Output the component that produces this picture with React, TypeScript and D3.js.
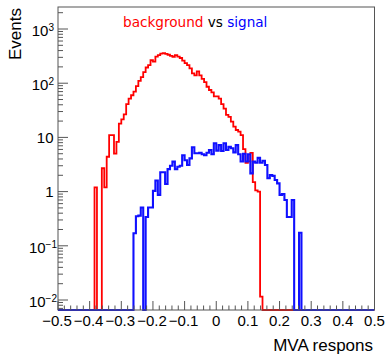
import React from "react";
import * as d3 from "d3";

// Histogram binning (axis range and number of bins)
const xMin = -0.5;
const xMax = 0.5;
const nBins = 130;

// Background (red) bin contents, starting at bin index bkgFirstBin
const bkgFirstBin = 15;
const bkgValues = [
  1.2, 0, 0, 2.7, 1.2, 4.4, 11, 11, 5.0, 8.3,
  18, 21.6, 26.7, 41, 52, 60, 70, 88, 110, 130,
  160, 195, 215, 265, 250, 310, 330, 350, 358, 348,
  335, 320, 308, 330, 310, 292, 262, 235, 215, 188,
  152, 140, 165, 140, 120, 105, 86, 75, 68, 57,
  57, 52, 41, 34, 26, 24, 19.5, 15.8, 13.7, 12.8,
  11, 6.1, 3.4, 3.6, 5.2, 1.5, 1.05, 1.0, 0.0115,
];

// Signal (blue) bin contents, starting at bin index sigFirstBin
const sigFirstBin = 31;
const sigValues = [
  0.17, 0.35, 0.36, 0.51, 0, 0.34, 0.51, 0.51, 1.03, 1.6,
  0.87, 2.27, 2.27, 1.38, 2.6, 3.0, 3.57, 2.58, 2.88, 3.0,
  4.7, 3.8, 3.1, 4.1, 6.6, 5.1, 5.1, 5.2, 4.9, 4.7,
  5.2, 5.85, 4.9, 7.8, 5.7, 7.2, 5.6, 7.8, 5.85, 6.7,
  6.3, 5.3, 7.2, 4.9, 3.6, 5.0, 3.6, 4.9, 2.17, 3.57,
  3.4, 4.2, 3.4, 3.7, 3.1, 1.76, 2.03, 1.95, 1.64, 1.42,
  0.87, 0.9, 0.7, 0.34, 0.34, 0.7, 0, 0, 0.174,
];

// Axis ticks and labels
const xMajorTicks = [-0.5, -0.4, -0.3, -0.2, -0.1, 0, 0.1, 0.2, 0.3, 0.4, 0.5];
const xTickLabels = ["\u22120.5", "\u22120.4", "\u22120.3", "\u22120.2", "\u22120.1", "0", "0.1", "0.2", "0.3", "0.4", "0.5"];
const yDecades = [-2, -1, 0, 1, 2, 3];
const yMin = 0.00654;
const yMax = 2547;

const titleParts = [
  { text: "background", color: "#ff0000" },
  { text: " vs ", color: "#000000" },
  { text: "signal", color: "#0000ff" },
];
const xTitle = "MVA respons";
const yTitle = "Events";

const AXIS_FONT = "'Liberation Sans', Arial, Helvetica, sans-serif";

export default function App() {
  const W = 386;
  const H = 355;
  const left = 58;
  const right = 374.5;
  const top = 7;
  const bottom = 310;

  const x = d3.scaleLinear().domain([xMin, xMax]).range([left, right]);
  const y = d3.scaleLog().domain([yMin, yMax]).range([bottom, top]);
  const binW = (xMax - xMin) / nBins;

  const fullArr = (first: number, vals: number[]) => {
    const arr = new Array(nBins).fill(0);
    vals.forEach((v, i) => {
      arr[first + i] = v;
    });
    return arr;
  };

  const histPath = (arr: number[]) => {
    const yv = (v: number) => (v > 0 ? y(Math.max(v, yMin)) : bottom);
    let d = `M${x(xMin)},${bottom}`;
    arr.forEach((v, i) => {
      const x0 = x(xMin + i * binW);
      const x1 = x(xMin + (i + 1) * binW);
      d += `L${x0},${yv(v)}L${x1},${yv(v)}`;
    });
    d += `L${x(xMax)},${bottom}`;
    return d;
  };

  const bkg = fullArr(bkgFirstBin, bkgValues);
  const sig = fullArr(sigFirstBin, sigValues);

  // minor x ticks every 0.02
  const xMinor: number[] = [];
  for (let k = -25; k <= 25; k++) {
    if (k % 5 !== 0) xMinor.push(k * 0.02);
  }
  // minor y ticks
  const yMinor: number[] = [];
  for (let e = -3; e <= 3; e++) {
    for (let m = 2; m <= 9; m++) {
      const v = m * Math.pow(10, e);
      if (v >= yMin && v <= yMax) yMinor.push(v);
    }
  }

  return (
    <svg
      width={W}
      height={H}
      style={{ position: "absolute", left: 0, top: 0, background: "#fff" }}
    >
      <defs>
        <clipPath id="frameClip">
          <rect x={left} y={top} width={right - left} height={bottom - top + 2} />
        </clipPath>
      </defs>
      <rect x={0} y={0} width={W} height={H} fill="#fff" />

      {/* title */}
      <text x={123} y={26.5} fontFamily="'DejaVu Sans', sans-serif" fontSize={13.6}>
        {titleParts.map((p, i) => (
          <tspan key={i} fill={p.color} style={{ whiteSpace: "pre" }}>
            {p.text}
          </tspan>
        ))}
      </text>

      {/* histograms */}
      <g clipPath="url(#frameClip)" fill="none" strokeLinejoin="miter">
        <path d={histPath(bkg)} stroke="#ff0000" strokeWidth={1.8} />
        <path d={histPath(sig)} stroke="#1010ff" strokeWidth={2.1} />
      </g>

      {/* frame */}
      <rect
        x={left}
        y={top}
        width={right - left}
        height={bottom - top}
        fill="none"
        stroke="#555"
        strokeWidth={1}
      />

      {/* ticks */}
      <g stroke="#555" strokeWidth={1}>
        {xMajorTicks.map((t) => (
          <line key={"xM" + t} x1={x(t)} x2={x(t)} y1={bottom} y2={bottom - 9} />
        ))}
        {xMinor.map((t) => (
          <line key={"xm" + t} x1={x(t)} x2={x(t)} y1={bottom} y2={bottom - 4.5} />
        ))}
        {yDecades.map((e) => (
          <line key={"yM" + e} x1={left} x2={left + 10} y1={y(Math.pow(10, e))} y2={y(Math.pow(10, e))} />
        ))}
        {yMinor.map((v) => (
          <line key={"ym" + v} x1={left} x2={left + 5} y1={y(v)} y2={y(v)} />
        ))}
      </g>

      {/* x tick labels */}
      <g fontFamily={AXIS_FONT} fontSize={15} fill="#000" textAnchor="middle">
        {xMajorTicks.map((t, i) => (
          <text key={"xl" + t} x={x(t) + (t < 0 ? -1 : 0)} y={326}>
            {xTickLabels[i]}
          </text>
        ))}
      </g>

      {/* y tick labels */}
      <g fontFamily={AXIS_FONT} fontSize={15} fill="#000" textAnchor="end">
        {yDecades.map((e) => {
          const ty = y(Math.pow(10, e));
          if (e === 0) {
            return (
              <text key={"yl" + e} x={53.5} y={ty + 5.3}>
                1
              </text>
            );
          }
          if (e === 1) {
            return (
              <text key={"yl" + e} x={53.5} y={ty + 5.3}>
                10
              </text>
            );
          }
          const expStr = e < 0 ? "\u2212" + Math.abs(e) : String(e);
          return (
            <text key={"yl" + e} x={e < 0 ? 57 : 54} y={ty + 7}>
              10
              <tspan dy={-5} fontSize={10}>
                {expStr}
              </tspan>
            </text>
          );
        })}
      </g>

      {/* axis titles */}
      <text
        x={373}
        y={351}
        fontFamily={AXIS_FONT}
        fontSize={17}
        textAnchor="end"
        fill="#000"
      >
        {xTitle}
      </text>
      <text
        transform={`translate(20.5, 8) rotate(-90)`}
        fontFamily={AXIS_FONT}
        fontSize={17}
        textAnchor="end"
        fill="#000"
      >
        {yTitle}
      </text>
    </svg>
  );
}
